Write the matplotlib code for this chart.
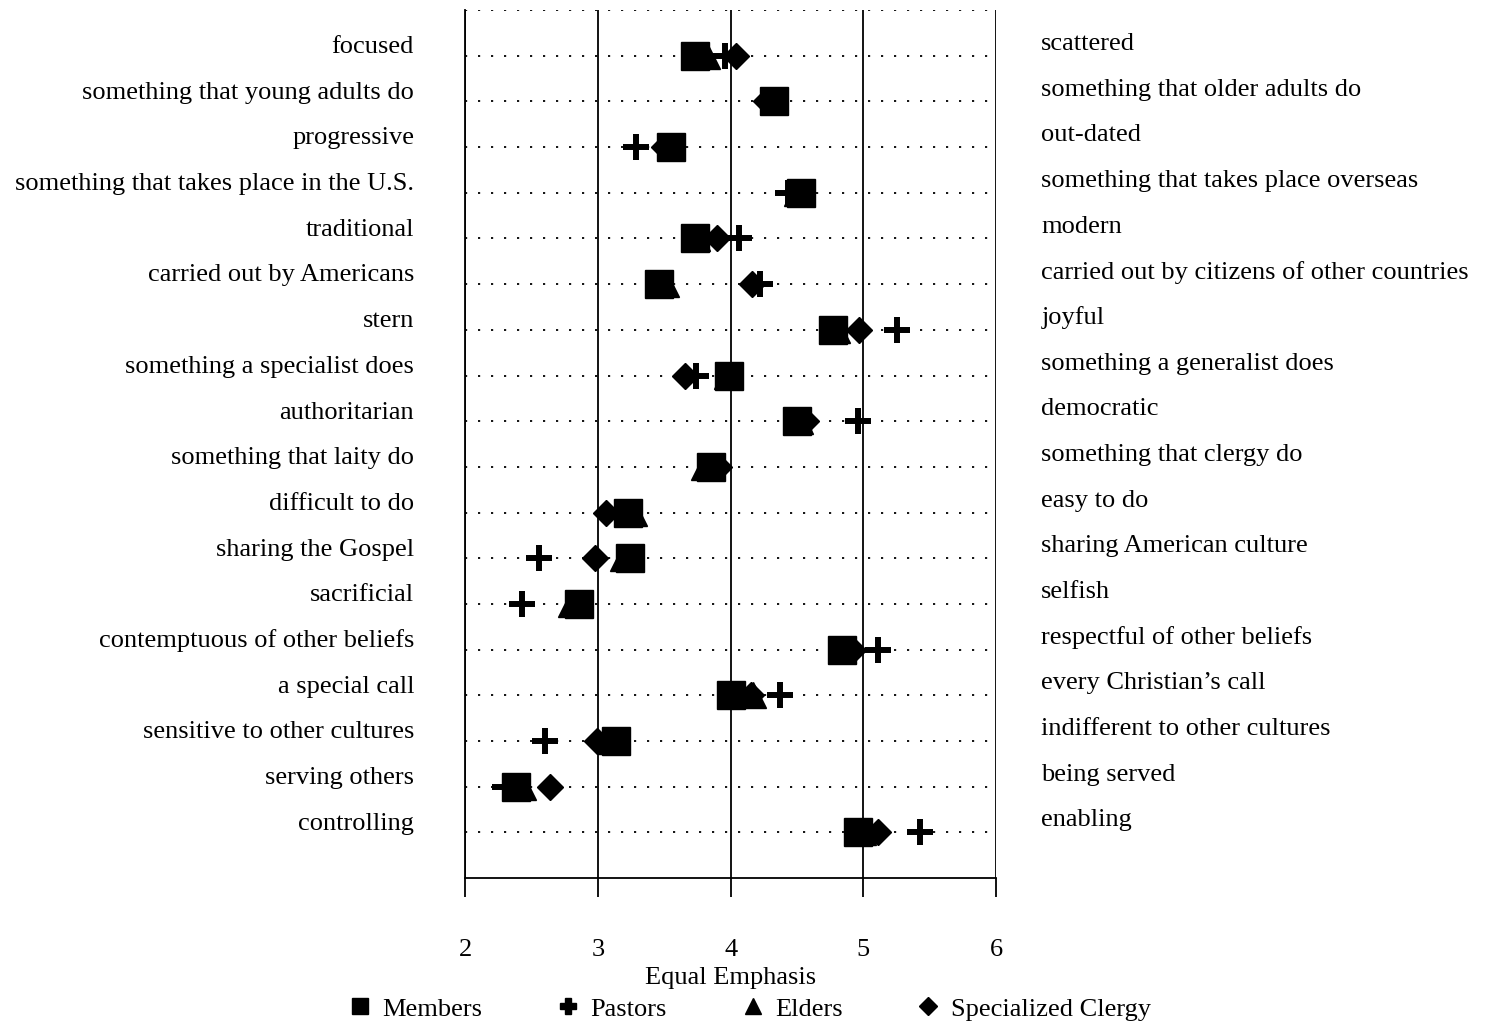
import numpy as np
import matplotlib.pyplot as plt
from matplotlib.lines import Line2D
from matplotlib.transforms import blended_transform_factory

plt.rcParams['font.family'] = ['Liberation Serif', 'DejaVu Serif']

left_labels = ['focused', 'something that young adults do', 'progressive',
               'something that takes place in the U.S.', 'traditional',
               'carried out by Americans', 'stern', 'something a specialist does',
               'authoritarian', 'something that laity do', 'difficult to do',
               'sharing the Gospel', 'sacrificial', 'contemptuous of other beliefs',
               'a special call', 'sensitive to other cultures', 'serving others',
               'controlling']
right_labels = ['scattered', 'something that older adults do', 'out-dated',
                'something that takes place overseas', 'modern',
                'carried out by citizens of other countries', 'joyful',
                'something a generalist does', 'democratic', 'something that clergy do',
                'easy to do', 'sharing American culture', 'selfish',
                'respectful of other beliefs', 'every Christian\u2019s call',
                'indifferent to other cultures', 'being served', 'enabling']

members = [3.73, 4.33, 3.55, 4.53, 3.73, 3.46, 4.77, 3.99, 4.50, 3.85, 3.23, 3.24, 2.86, 4.84, 4.00, 3.14, 2.38, 4.96]
pastors = [3.96, 4.30, 3.29, 4.43, 4.06, 4.22, 5.25, 3.74, 4.96, 3.85, 3.20, 2.56, 2.43, 5.11, 4.37, 2.60, 2.30, 5.43]
elders = [3.82, 4.32, 3.55, 4.50, 3.75, 3.51, 4.80, 3.97, 4.52, 3.80, 3.27, 3.19, 2.80, 4.85, 4.17, 3.10, 2.44, 5.00]
clergy = [4.04, 4.27, 3.50, 4.50, 3.90, 4.16, 4.97, 3.66, 4.57, 3.91, 3.06, 2.98, 2.85, 4.92, 4.15, 2.99, 2.64, 5.11]

xticks = [2, 3, 4, 5, 6]

rows = np.arange(1, len(left_labels) + 1)
fs = 19

fig = plt.figure(figsize=(14.93, 10.25), dpi=100)
ax = fig.add_axes([0.3115, 0.1434, 0.3557, 0.8468])

# horizontal dotted lines, vertical solid lines
for r in range(0, len(rows) + 1):
    ax.axhline(r, color='black', lw=1.3, ls=(0, (1.2, 6)), zorder=1)
for t in xticks:
    ax.axvline(t, color='black', lw=1.3, zorder=1)

ax.plot(clergy, rows, ls='none', marker='D', ms=13, color='black', zorder=3)
ax.plot(elders, rows, ls='none', marker='^', ms=19, color='black', zorder=3)
ax.plot(pastors, rows, ls='none', marker='+', ms=19, mew=4.3, color='black', zorder=3)
ax.plot(members, rows, ls='none', marker='s', ms=20, color='black', zorder=3)

ax.set_xlim(2, 6)
ax.set_ylim(len(rows) + 1, 0)
ax.set_xticks(xticks)
ax.set_xticklabels([str(t) for t in xticks], fontsize=fs)
ax.tick_params(axis='x', direction='out', length=14, width=1.3, pad=30)
ax.set_yticks([])
for s in ['top', 'right']:
    ax.spines[s].set_visible(False)
ax.spines['left'].set_linewidth(1.3)
ax.spines['bottom'].set_linewidth(1.3)
ax.set_xlabel('Equal Emphasis', fontsize=fs, labelpad=4)

trans = blended_transform_factory(ax.transAxes, ax.transData)
for r, lab in zip(rows, left_labels):
    ax.text(-0.096, r - 0.19, lab, transform=trans, ha='right', va='center', fontsize=fs)
for r, lab in zip(rows, right_labels):
    ax.text(1.085, r - 0.26, lab, transform=trans, ha='left', va='center', fontsize=fs)

handles = [Line2D([], [], ls='none', marker='s', ms=11, color='black'),
           Line2D([], [], ls='none', marker='P', ms=12, color='black'),
           Line2D([], [], ls='none', marker='^', ms=12, color='black'),
           Line2D([], [], ls='none', marker='D', ms=9, color='black')]
fig.legend(handles, ['Members', 'Pastors', 'Elders', 'Specialized Clergy'],
           loc='lower center', bbox_to_anchor=(0.502, -0.019), ncol=4, frameon=False,
           fontsize=fs, handlelength=0.9, handletextpad=0.4, columnspacing=2.8)

fig.savefig('out.png', dpi=100)
